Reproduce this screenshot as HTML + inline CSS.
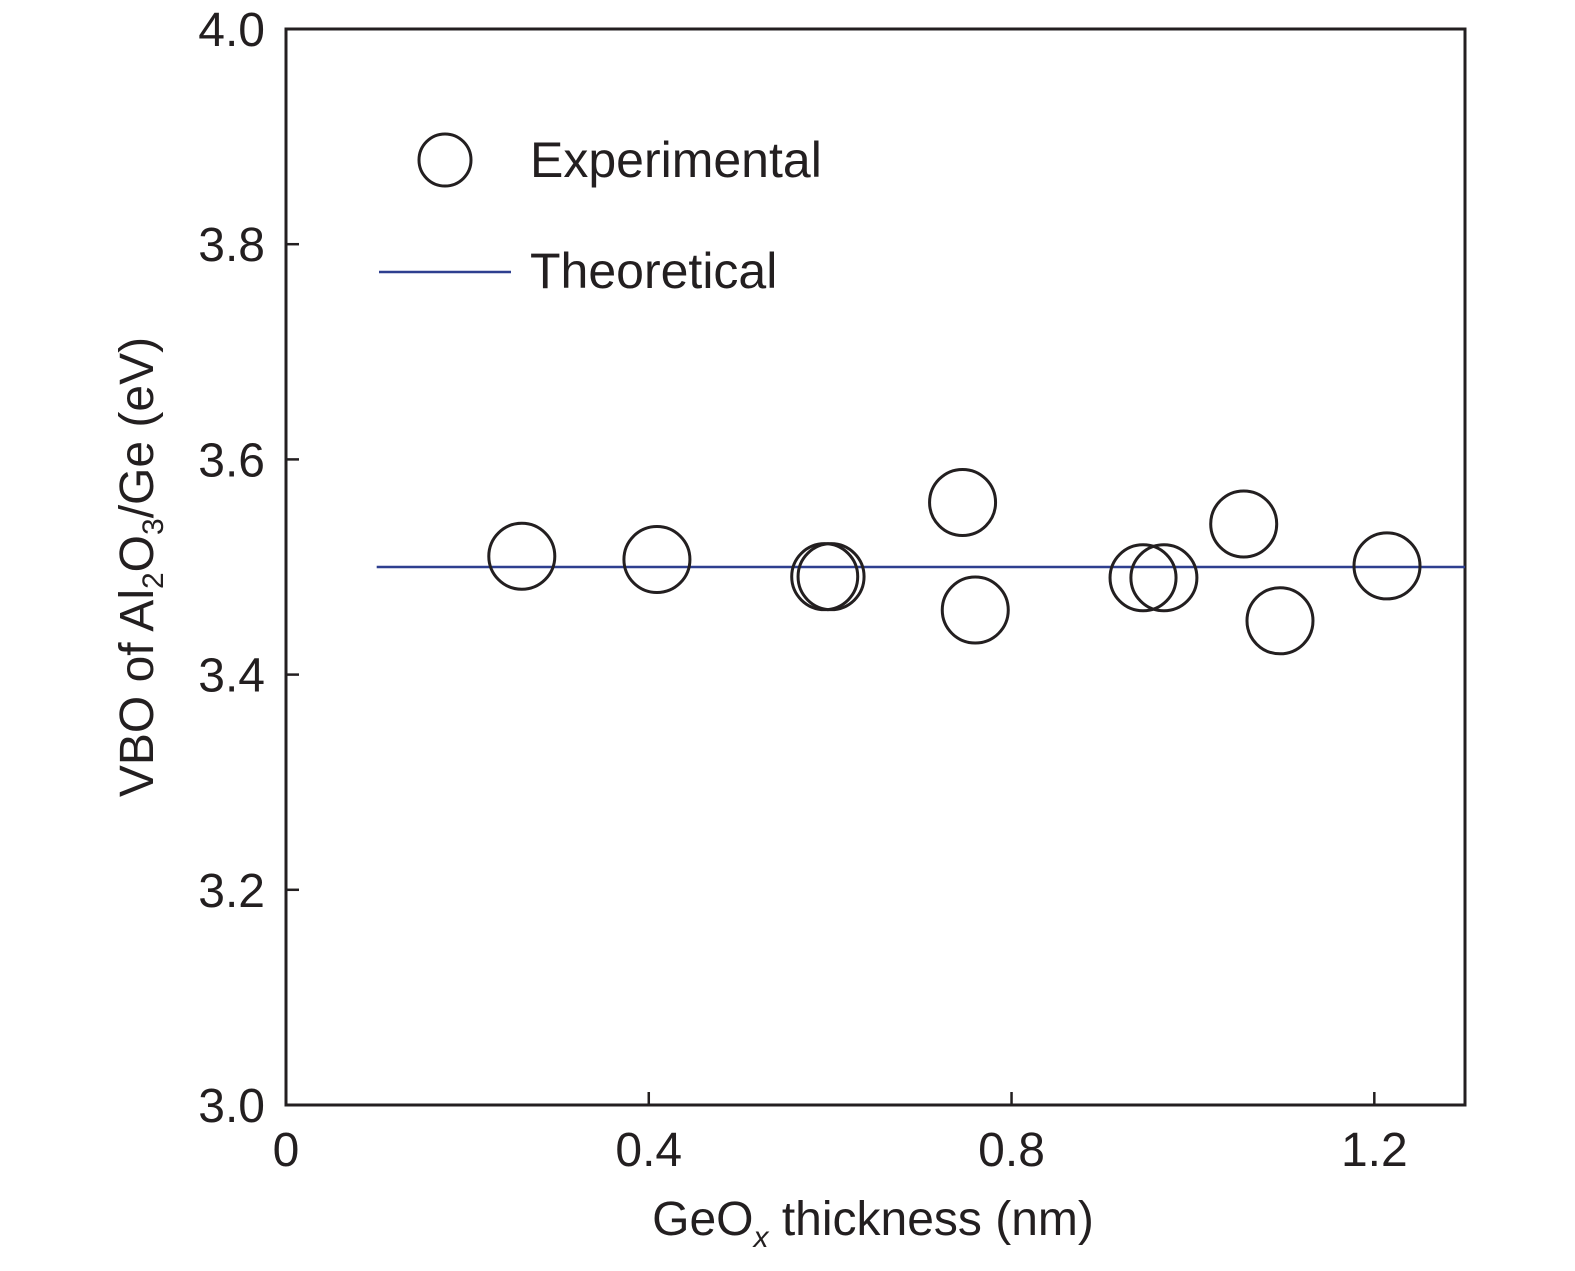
<!DOCTYPE html>
<html><head><meta charset="utf-8"><style>
html,body{margin:0;padding:0;background:#fff;}
svg text{font-family:"Liberation Sans Narrow","Liberation Sans",sans-serif;fill:#231f20;}
</style></head><body>
<svg id="chart" width="1575" height="1266" viewBox="0 0 1575 1266" xmlns="http://www.w3.org/2000/svg">
<g id="axes"></g>
<g id="marks"></g>
<g id="legend">
<circle cx="445" cy="160" r="26" fill="none" stroke="#231f20" stroke-width="3"/>
<text x="530" y="177" font-size="50">Experimental</text>
<line x1="379" y1="272" x2="511" y2="272" stroke="#2e3f8f" stroke-width="2.5"/>
<text x="530" y="288" font-size="50">Theoretical</text>
</g>
<text x="873" y="1235" font-size="48" text-anchor="middle">GeO<tspan font-size="30" dy="12" font-style="italic">x</tspan><tspan dy="-12"> thickness (nm)</tspan></text>
<text transform="translate(153,567) rotate(-90)" font-size="48" text-anchor="middle">VBO of Al<tspan font-size="30" dy="10">2</tspan><tspan dy="-10">O</tspan><tspan font-size="30" dy="10">3</tspan><tspan dy="-10">/Ge (eV)</tspan></text>
</svg>
<script>
const xTicks=[0,0.4,0.8,1.2];
const xTickLabels=["0","0.4","0.8","1.2"];
const yTicks=[3.0,3.2,3.4,3.6,3.8,4.0];
const yTickLabels=["3.0","3.2","3.4","3.6","3.8","4.0"];
const expX=[0.26,0.409,0.594,0.601,0.746,0.760,0.945,0.968,1.056,1.096,1.214];
const expY=[3.51,3.507,3.491,3.491,3.56,3.46,3.49,3.49,3.54,3.45,3.501];
const theoX=[0.1,1.3];
const theoY=[3.5,3.5];
const X0=286,X1=1465,Y0=1105,Y1=29;
const xs=v=>X0+(v-0)/1.3*(X1-X0);
const ys=v=>Y0-(v-3.0)/1.0*(Y0-Y1);
const NS="http://www.w3.org/2000/svg";
function mk(tag,attrs,parent){const e=document.createElementNS(NS,tag);for(const k in attrs)e.setAttribute(k,attrs[k]);parent.appendChild(e);return e;}
const ax=document.getElementById('axes');
let f=mk('rect',{x:X0,y:Y1,width:X1-X0,height:Y0-Y1,fill:'none',stroke:'#231f20','stroke-width':3},ax);


xTicks.forEach((t,i)=>{
 if(t>0){let l=mk('line',{x1:xs(t),x2:xs(t),y1:Y0,y2:Y0-13,stroke:'#231f20','stroke-width':2.5},ax);
 
 }
 let tx=mk('text',{x:xs(t),y:1166,'font-size':48,'text-anchor':'middle'},ax);
 tx.textContent=xTickLabels[i];
 
 
});
yTicks.forEach((t,i)=>{
 if(t>3.0&&t<4.0){let l=mk('line',{x1:X0,x2:X0+13,y1:ys(t),y2:ys(t),stroke:'#231f20','stroke-width':2.5},ax);
 
 }
 let tx=mk('text',{x:265,y:ys(t)+17,'font-size':48,'text-anchor':'end'},ax);
 tx.textContent=yTickLabels[i];
 
 
});
const mg=document.getElementById('marks');
let ln=mk('line',{x1:xs(theoX[0]),x2:xs(theoX[1]),y1:ys(theoY[0]),y2:ys(theoY[1]),stroke:'#2e3f8f','stroke-width':2.5},mg);


expX.forEach((v,i)=>{
 let c=mk('circle',{cx:xs(v),cy:ys(expY[i]),r:33,fill:'none',stroke:'#231f20','stroke-width':3},mg);
 
 
});
</script>
</body></html>
